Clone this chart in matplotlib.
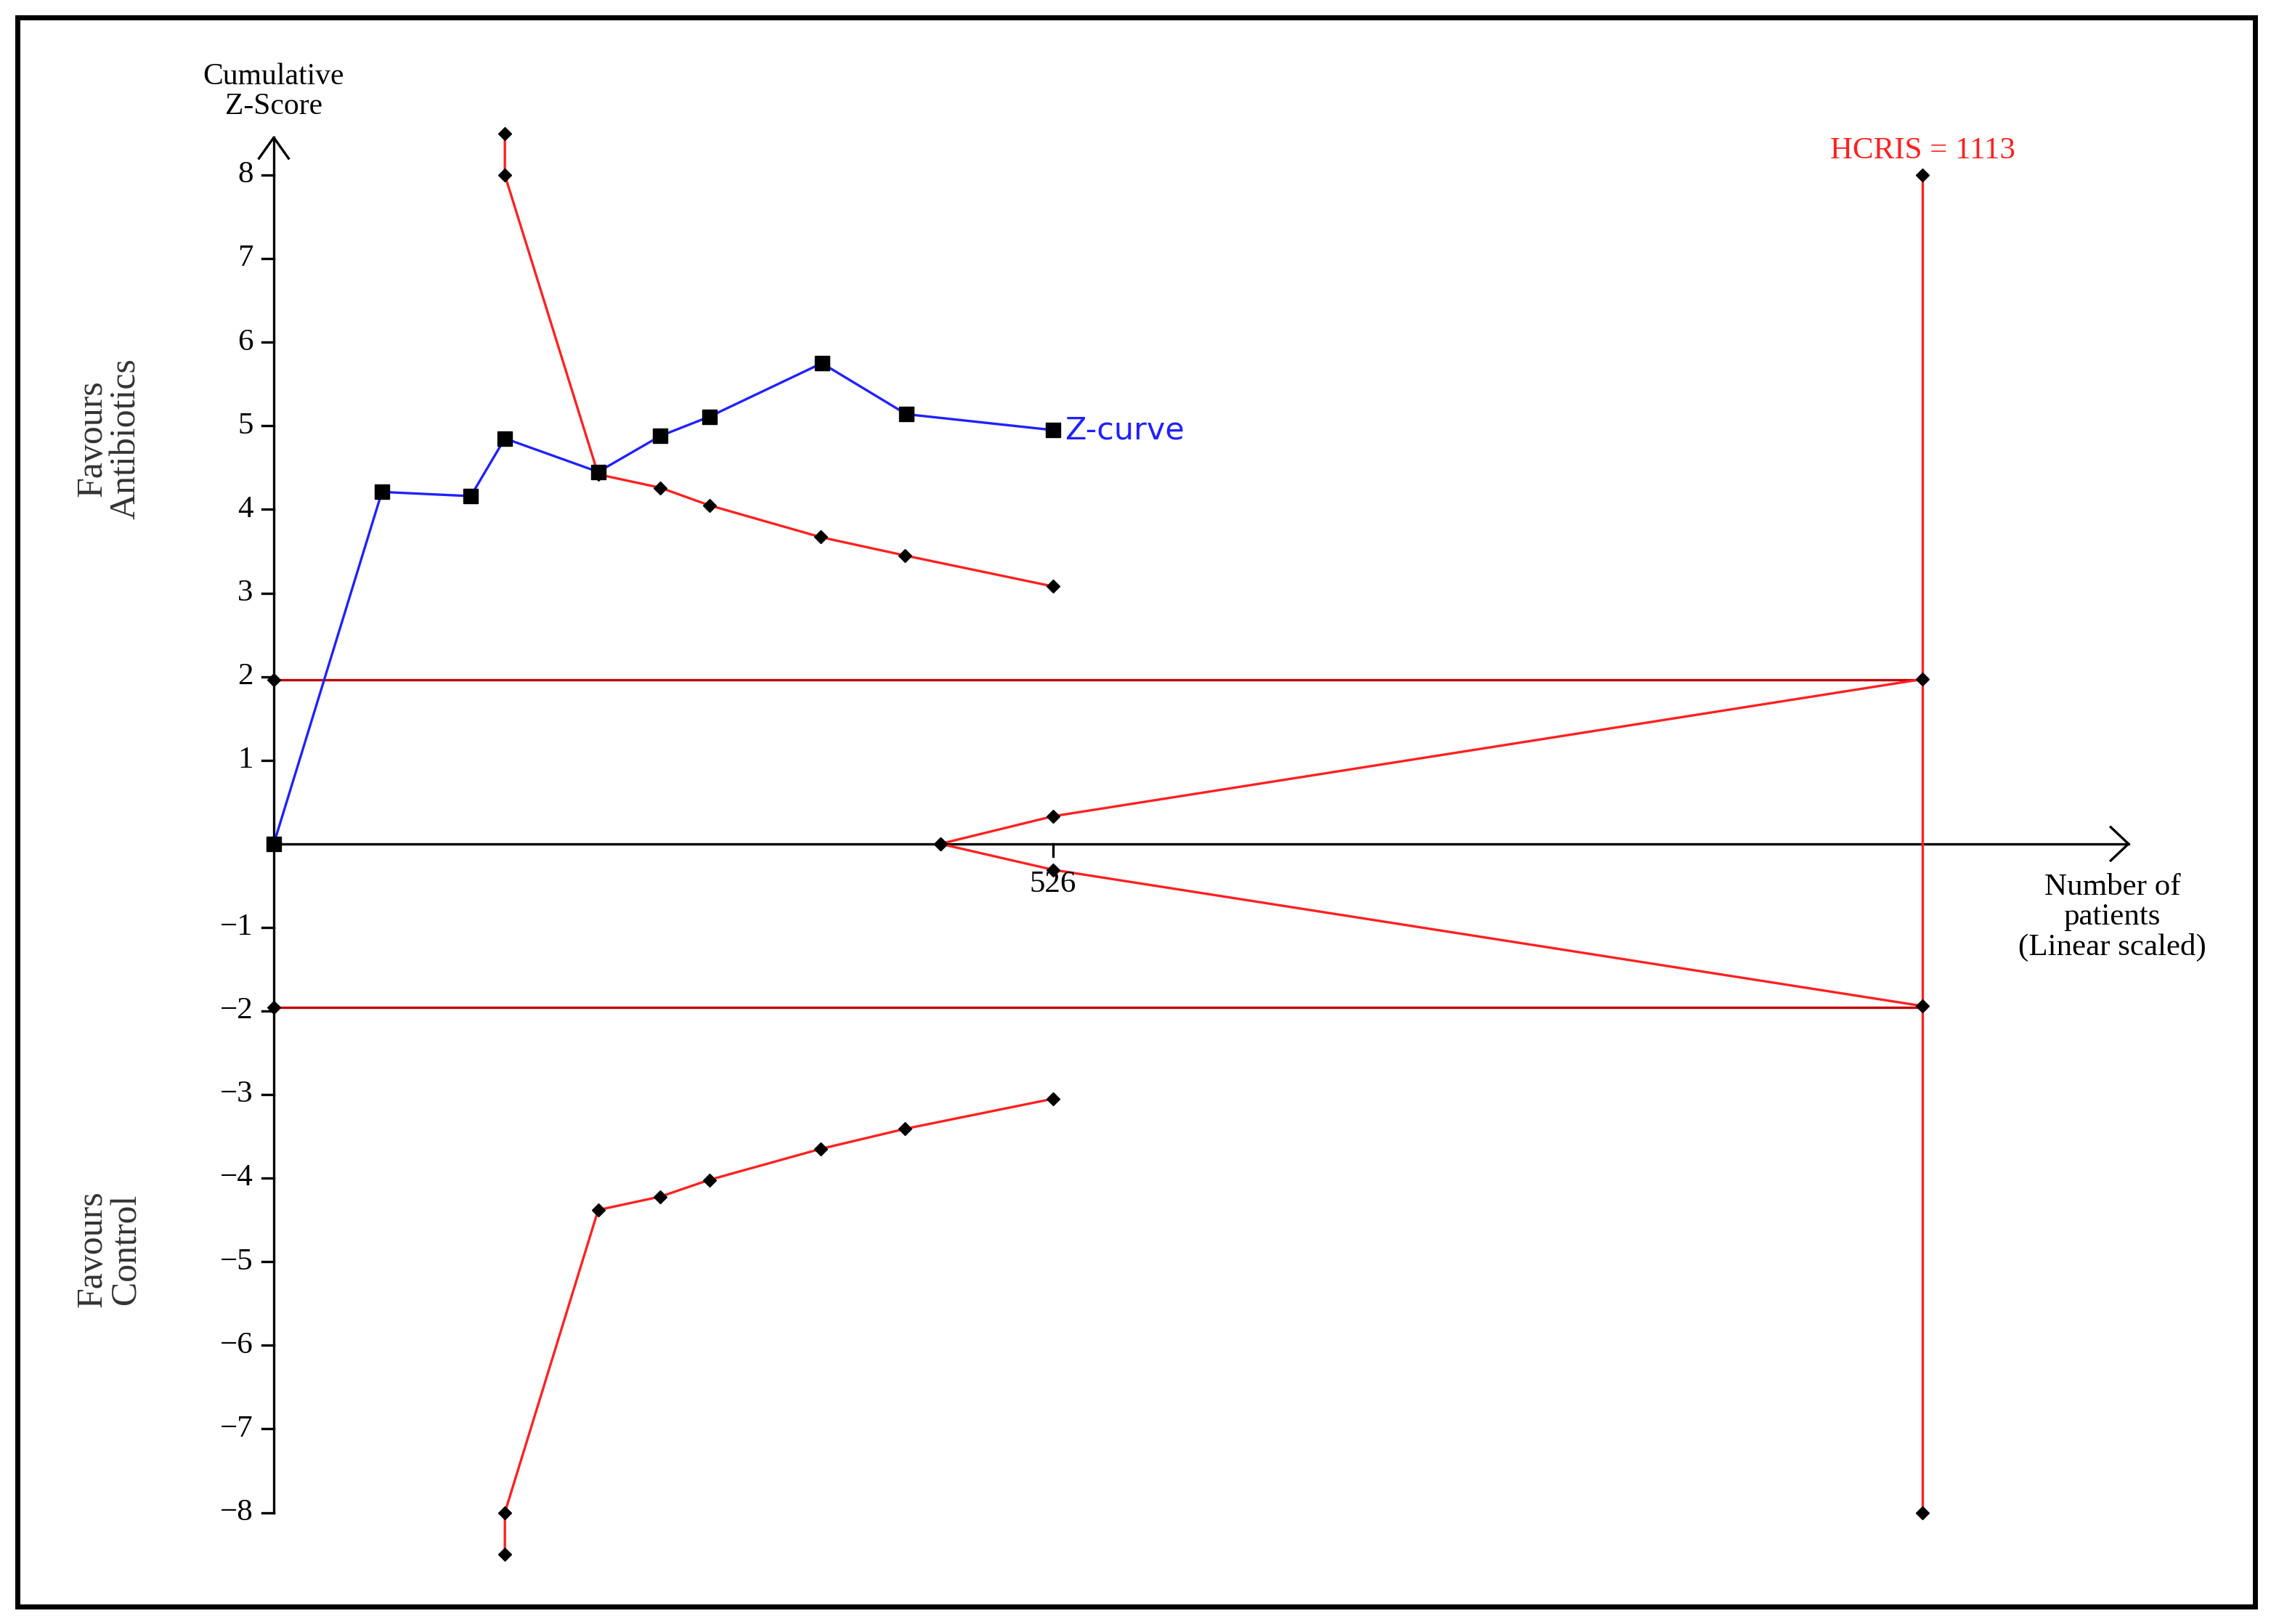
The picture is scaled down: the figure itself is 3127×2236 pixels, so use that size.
import matplotlib
matplotlib.use("Agg")
import matplotlib.pyplot as plt
from matplotlib.patches import Rectangle

# Data
z_x = [0, 73, 133, 156, 219, 261, 294, 370, 427, 526]
z_y = [0, 4.21, 4.16, 4.85, 4.45, 4.88, 5.11, 5.75, 5.14, 4.95]
up_x = [156, 156, 219, 261, 294, 369, 426, 526]
up_y = [8.5, 8.0, 4.42, 4.26, 4.05, 3.67, 3.45, 3.08]
lo_x = [156, 156, 219, 261, 294, 369, 426, 526]
lo_y = [-8.5, -8.0, -4.38, -4.22, -4.02, -3.65, -3.41, -3.05]
fut_up_x = [450, 526, 1113]
fut_up_y = [0, 0.33, 1.97]
fut_lo_x = [450, 526, 1113]
fut_lo_y = [0, -0.31, -1.94]
conv = 1.96
ris = 1113
yticks = [-8, -7, -6, -5, -4, -3, -2, -1, 1, 2, 3, 4, 5, 6, 7, 8]

serif = ["Liberation Serif", "DejaVu Serif"]
fig = plt.figure(figsize=(31.27, 22.36), dpi=100)
ax = fig.add_axes([0, 0, 1, 1])
ax.set_xlim(-184.8, 1348.2)
ax.set_ylim(-9.333, 10.095)
ax.axis("off")
fig.patches.append(Rectangle((12/1568, 1-1110/1122), (1557-12)/1568, (1110-12)/1122,
                             transform=fig.transFigure, fill=False, lw=5, ec="black"))

lw = 2.4
red = "#ff2020"
top = 8.45
# axes
ax.plot([0, 0], [-8, top], color="black", lw=lw)
ax.plot([-10, 0, 10], [top - 0.25, top, top - 0.25], color="black", lw=lw)
ax.plot([0, 1252], [0, 0], color="black", lw=lw)
ax.plot([1240, 1252, 1240], [0.2, 0, -0.2], color="black", lw=lw)
for t in yticks:
    ax.plot([-8, 0], [t, t], color="black", lw=lw)
    ax.text(-14, t, f"{t}".replace("-", "\u2212"), ha="right", va="center",
            fontsize=31, family=serif)
ax.plot([526, 526], [0, -0.15], color="black", lw=lw)
ax.text(526, -0.32, "526", ha="center", va="top", fontsize=31, family=serif)
ax.text(0, 8.65, "Cumulative\nZ-Score", ha="center", va="bottom", fontsize=30,
        family=serif, linespacing=1.1)
ax.text(1241, -0.35, "Number of\npatients\n(Linear scaled)", ha="center", va="top",
        fontsize=31, family=serif, linespacing=1.1)
ax.text(-111, 4.85, "Favours\nAntibiotics", rotation=90, ha="center", va="center",
        fontsize=36, family=serif, color="#333333", linespacing=1.0)
ax.text(-111, -4.85, "Favours\nControl", rotation=90, ha="center", va="center",
        fontsize=36, family=serif, color="#333333", linespacing=1.0)

# conventional boundaries and RIS
ax.plot([0, ris], [conv, conv], color="#c00000", lw=lw)
ax.plot([0, ris], [-conv, -conv], color="#c00000", lw=lw)
ax.plot([0, 0], [conv, -conv], "kD", ms=9, ls="none")
ax.plot([ris, ris], [-8, 8], color=red, lw=lw)
ax.plot([ris, ris], [-8, 8], "kD", ms=9, ls="none")
ax.text(ris, 8.12, "HCRIS = 1113", color=red, ha="center", va="bottom",
        fontsize=31, family=serif)

# boundaries
for xs, ys in [(up_x, up_y), (lo_x, lo_y), (fut_up_x, fut_up_y), (fut_lo_x, fut_lo_y)]:
    ax.plot(xs, ys, color=red, lw=lw, marker="D", mfc="black", mec="black", ms=9)

# Z-curve
ax.plot(z_x, z_y, color="#2020ff", lw=lw, marker="s", mfc="black", mec="black", ms=14)
ax.text(z_x[-1] + 8, z_y[-1], "Z-curve", color="#2020ff", ha="left", va="center",
        fontsize=31)

fig.savefig("out.png", dpi=100, facecolor="white")
